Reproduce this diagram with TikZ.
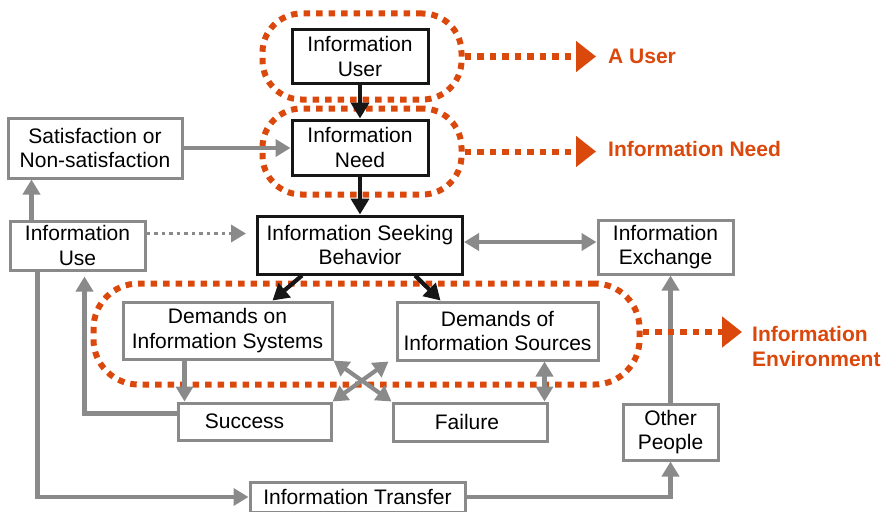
\documentclass[tikz,border=0pt]{standalone}
\usepackage{fontspec}
\setmainfont{Liberation Sans}
\usetikzlibrary{positioning, arrows.meta, calc, backgrounds, fit}
\definecolor{envorange}{RGB}{218,72,12}
\definecolor{linegray}{RGB}{138,138,138}
\definecolor{boxblack}{RGB}{22,22,22}

\begin{document}
\begin{tikzpicture}[
    x=1pt, y=-1pt,
    font=\fontsize{21}{24.5}\selectfont,
    box/.style={draw=linegray, line width=3pt, rectangle, inner sep=0pt, align=center, fill=white},
    key/.style={box, draw=boxblack},
    arr/.style={-{Triangle[length=15pt, width=17pt]}, line width=4.2pt, draw=linegray},
    darr/.style={{Triangle[length=15pt, width=17pt]}-{Triangle[length=15pt, width=17pt]}, line width=4.2pt, draw=linegray},
    karr/.style={-{Triangle[length=16pt, width=18pt]}, line width=4.2pt, draw=boxblack},
    grp/.style={draw=envorange, line width=6pt, dash pattern=on 6.5pt off 6pt, rounded corners=39pt, inner sep=0pt},
    oarr/.style={-{Triangle[length=20pt, width=30pt]}, line width=6pt, draw=envorange, dash pattern=on 6.5pt off 6pt},
    olabel/.style={text=envorange, font=\fontsize{21}{25}\selectfont\bfseries, inner sep=0pt, anchor=west, align=left}
]
    \useasboundingbox (0,0) rectangle (885,511);

    % central chain
    \node[key, minimum width=136pt, minimum height=53pt] (user) at (360,56.5) {Information\\User};
    \node[key, minimum width=136pt, minimum height=55pt] (need) [below=34pt of user] {Information\\Need};
    \node[key, minimum width=205pt, minimum height=58pt] (seek) [below=38pt of need] {Information Seeking\\Behavior};

    \node[box, minimum width=174pt, minimum height=60pt] (sat) at (95,148) {Satisfaction or\\Non-satisfaction};
    \node[box, minimum width=135pt, minimum height=49pt] (use) at (77.5,245.5) {Information\\Use};
    \node[box, minimum width=135pt, minimum height=54pt] (exch) at (665.5,247) {Information\\Exchange};

    \node[box, minimum width=209pt, minimum height=57pt] (dsys) at (227.5,330.5) {Demands on\\Information Systems};
    \node[box, minimum width=201pt, minimum height=58pt] (dsrc) at (497.5,331) {Demands of\\Information Sources};
    \node[box, minimum width=153pt, minimum height=37pt] (succ) at (254.5,421.5) {Success\hspace*{20pt}};
    \node[box, minimum width=154pt, minimum height=38pt] (fail) at (470,422) {Failure\hspace*{6pt}};
    \node[box, minimum width=95pt, minimum height=56pt] (other) at (670.5,432) {Other\\People};
    \node[box, minimum width=215pt, minimum height=30pt] (trans) at (357.5,497) {Information Transfer};

    % dotted groups
    \begin{scope}[on background layer]
        \node[grp, fit=(user), inner xsep=30pt, inner ysep=15pt, xshift=2pt] (ugrp) {};
        \node[grp, fit=(need), inner xsep=30pt, inner ysep=14pt, xshift=2pt, yshift=-4pt] (ngrp) {};
        \node[grp, fit=(dsys)(dsrc), inner xsep=34pt, inner ysep=20pt, xshift=6pt, yshift=-3pt, rounded corners=45pt] (egrp) {};
    \end{scope}

    \node[olabel] (ulab) at (608,56) {A User};
    \node[olabel] (nlab) at (608,149) {Information Need};
    \node[olabel] (elab) at (752,346) {Information\\Environment};

    \draw[karr] (user) -- (need);
    \draw[karr] (need.south) -- (need.south |- seek.north);
    \draw[karr] ($(seek.south)+(-58,0)$) -- ($(dsys.north)+(45,0)$);
    \draw[karr] ($(seek.south)+(55,0)$) -- ($(dsrc.north)+(-57,0)$);

    \draw[arr] (sat.east) -- (sat.east -| need.west);
    \draw[arr] ([xshift=23pt]use.north west) -- ([xshift=23pt]use.north west |- sat.south);
    \draw[arr, dash pattern=on 3.5pt off 4pt, line width=3.5pt, shorten >=10pt] ([yshift=12pt]use.east) -- ([yshift=12pt]use.east -| seek.west);
    \draw[darr] ([yshift=3pt]seek.east) -- ([yshift=3pt]seek.east -| exch.west);

    \draw[arr] ([xshift=-43pt]dsys.south) -- ([xshift=-43pt]dsys.south |- succ.north);
    \draw[darr] (succ.north east) -- ([xshift=-7pt]dsrc.south west);
    \draw[darr] (dsys.south east) -- (fail.north west);
    \draw[darr] ([xshift=47pt]dsrc.south) -- ([xshift=47pt]dsrc.south |- fail.north);

    \draw[arr, shorten >=5pt] ([yshift=8pt]succ.west) -| ([xshift=7pt]use.south);
    \draw[arr] ([xshift=-40pt]use.south) |- (trans.west);
    \draw[arr] (trans.east) -| (other.south);
    \draw[arr] (other.north) -- (other.north |- exch.south);

    \draw[oarr, shorten >=12pt] (ugrp.east) -- (ugrp.east -| ulab.west);
    \draw[oarr, shorten >=12pt] (ngrp.east) -- (ngrp.east -| nlab.west);
    \draw[oarr, shorten >=10pt] ([yshift=2pt]egrp.east) -- ([yshift=2pt]egrp.east -| elab.west);
\end{tikzpicture}
\end{document}
